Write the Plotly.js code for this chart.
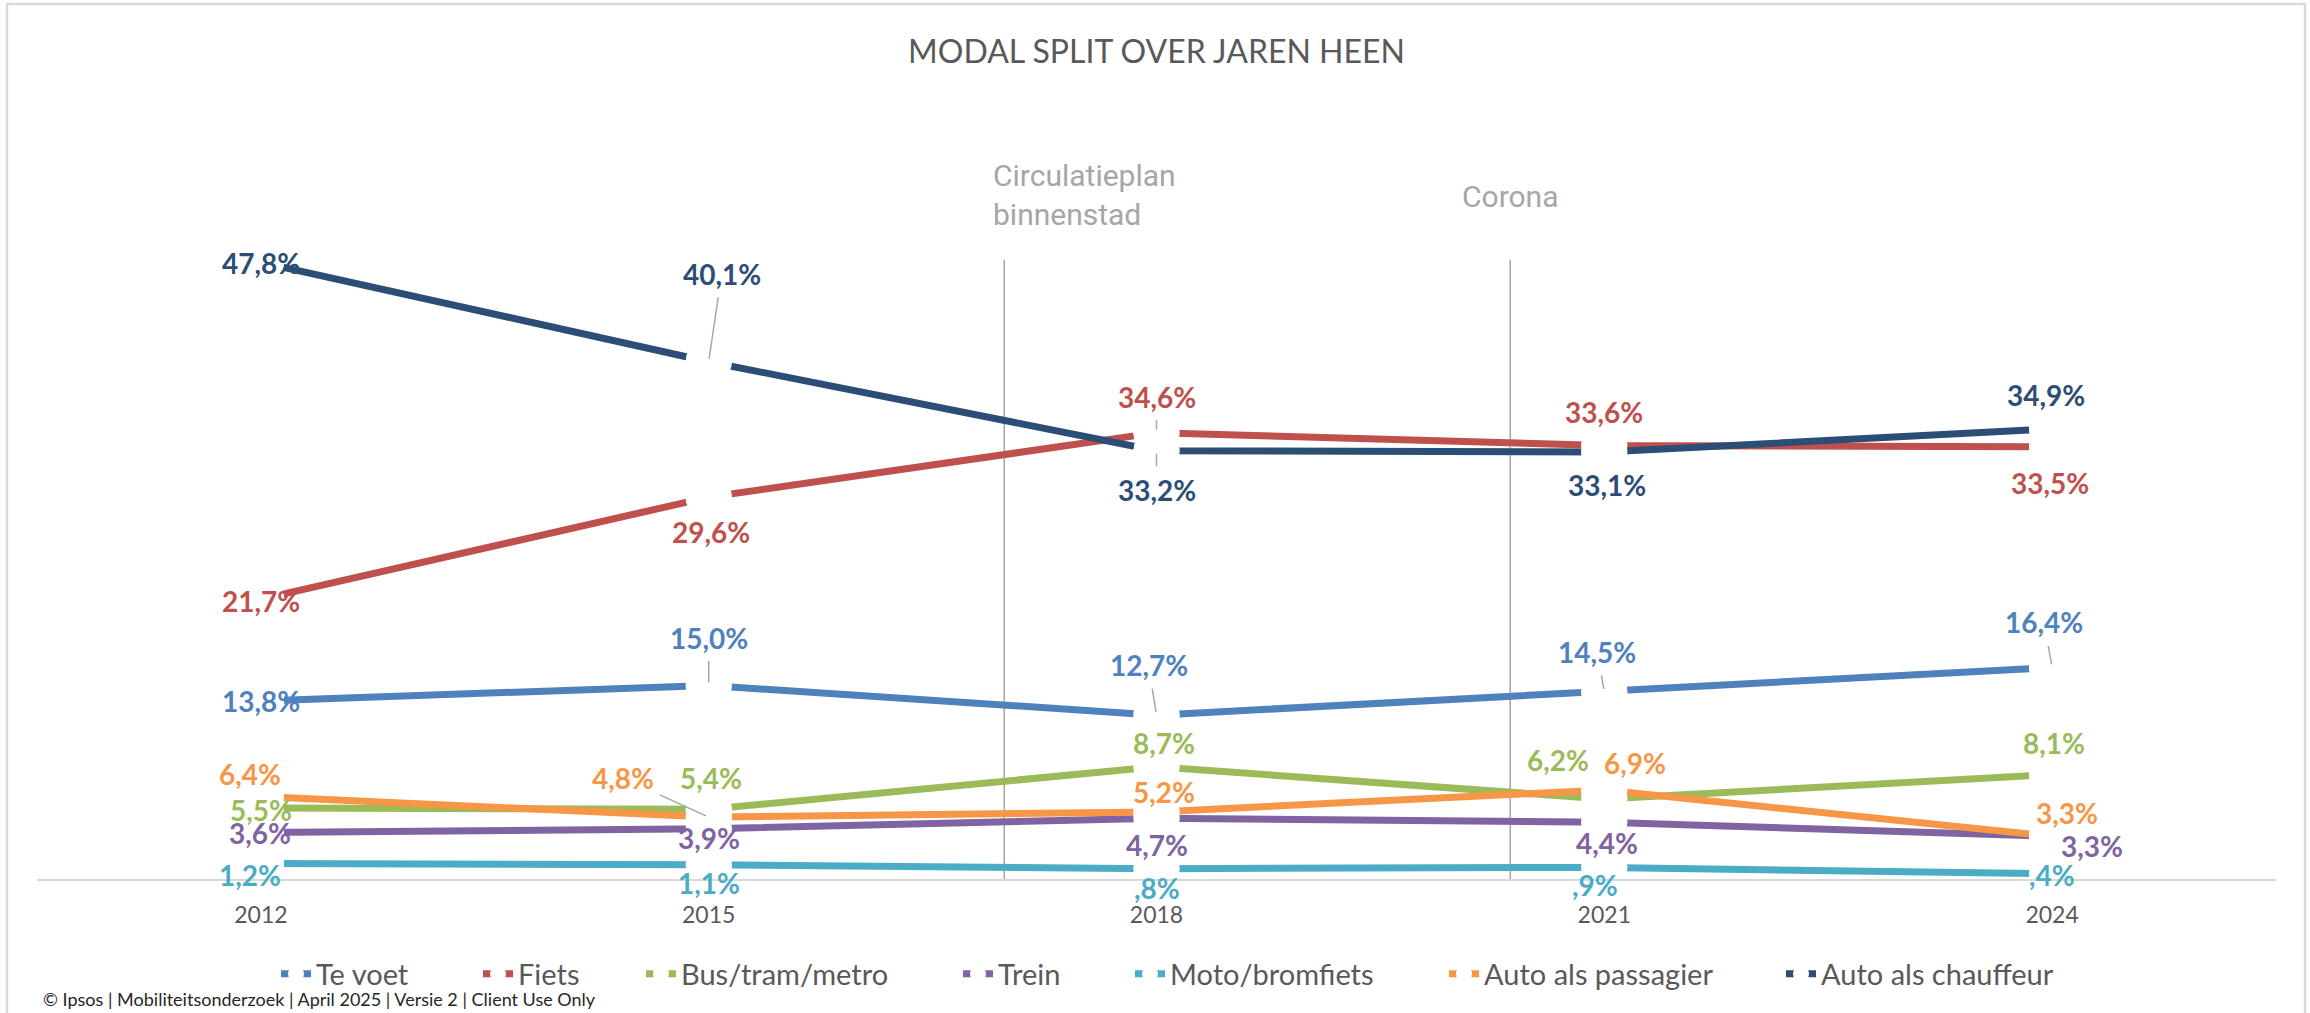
<!DOCTYPE html>
<html><head><meta charset="utf-8">
<script src="https://cdn.plot.ly/plotly-3.0.1.min.js"></script>
<style>html,body{margin:0;padding:0;background:#fff}#chart{width:2310px;height:1013px}</style>
</head><body><div id="chart"></div>
<script>
// ---------- DATA ----------
const years = ['2012', '2015', '2018', '2021', '2024'];
const seriesNames = ['Te voet', 'Fiets', 'Bus/tram/metro', 'Trein', 'Moto/bromfiets', 'Auto als passagier', 'Auto als chauffeur'];
const teVoet        = [13.8, 15.0, 12.7, 14.5, 16.4];
const fiets         = [21.7, 29.6, 34.6, 33.6, 33.5];
const busTramMetro  = [5.5, 5.4, 8.7, 6.2, 8.1];
const trein         = [3.6, 3.9, 4.7, 4.4, 3.3];
const motoBromfiets = [1.2, 1.1, 0.8, 0.9, 0.4];
const autoPassagier = [6.4, 4.8, 5.2, 6.9, 3.3];
const autoChauffeur = [47.8, 40.1, 33.2, 33.1, 34.9];
const chartTitle = 'MODAL SPLIT OVER JAREN HEEN';
const eventLabels = ['Circulatieplan<br>binnenstad', 'Corona'];
const footerText = '© Ipsos | Mobiliteitsonderzoek | April 2025 | Versie 2 | Client Use Only';

// ---------- STYLE / POSITIONS ----------
const seriesValues = [teVoet, fiets, busTramMetro, trein, motoBromfiets, autoPassagier, autoChauffeur];
const colors = ['#4F81BD', '#C0504D', '#9BBB59', '#8064A2', '#4BACC6', '#F79646', '#2C4D75'];
// label offsets in pixels from the point: [dx, dy(down), leaderLine]
const labelOffsets = [
  [[0, 0, 0], [0, -48, 1], [-8, -50, 1], [-7, -40, 1], [-8, -45, 1]],
  [[0, 2, 0], [2, 35, 0], [0, -36, 1], [0, -34, 0], [-2, 36, 0]],
  [[0, 2, 0], [2, -31, 0], [7, -24, 0], [-46, -39, 0], [2, -32, 0]],
  [[-1, 0, 0], [0, 9, 0], [0, 27, 0], [3, 21, 0], [40, 10, 0]],
  [[-11, 11, 0], [0, 18, 0], [0, 19, 0], [-9, 18, 0], [0, 1, 0]],
  [[-11, -22, 0], [-86, -39, 1], [7, -20, 0], [31, -27, 0], [15, -23, 0]],
  [[0, 1, 0], [13, -88, 1], [0, 39, 1], [3, 33, 0], [-6, -34, 0]]
];
const eventPositions = [1.66, 2.79];   // in category units
const eventTop = 48;
// legend entry text start, in page pixels
const legendTextStarts = [321, 523, 686, 1003, 1175, 1489, 1826];

const W = 2310, H = 1013;
const M = {l: 37, r: 34, t: 234, b: 134};
const PW = W - M.l - M.r, PH = H - M.t - M.b;
const pxX = px => (px - M.l) / PW;
const pxY = py => (H - M.b - py) / PH;

const FONT = 'Lato, "Open Sans", "Noto Sans", sans-serif';
const fmt = v => { let s = v.toFixed(1).replace('.', ','); if (s.startsWith('0')) s = s.slice(1); return s + '%'; };
const legendId = s => (s === 0 ? 'legend' : 'legend' + (s + 1));

// ---------- TRACES ----------
const traces = seriesValues.map((vals, s) => ({
  type: 'scatter', mode: 'lines+markers', name: seriesNames[s],
  x: years, y: vals, legend: legendId(s),
  line: {color: colors[s], width: 7},
  marker: {color: '#ffffff', size: 46, line: {width: 0}},
  hoverinfo: 'skip'
}));
// white gap markers drawn on top of all lines
const gapX = [], gapY = [];
seriesValues.forEach(vals => vals.forEach((v, i) => { gapX.push(years[i]); gapY.push(v); }));
traces.push({type: 'scatter', mode: 'markers', x: gapX, y: gapY, showlegend: false,
  marker: {color: '#ffffff', size: 46, line: {width: 0}}, hoverinfo: 'skip'});

// ---------- ANNOTATIONS ----------
const annotations = [];
seriesValues.forEach((vals, s) => {
  vals.forEach((v, i) => {
    const [dx, dy, leader] = labelOffsets[s][i];
    const base = {x: i, y: v, xref: 'x', yref: 'y', text: '<b>' + fmt(v) + '</b>',
      font: {family: FONT, size: 28, color: colors[s]}};
    if (leader) {
      annotations.push(Object.assign(base, {showarrow: true, ax: dx, ay: dy, arrowhead: 0,
        arrowcolor: '#A6A6A6', arrowwidth: 1.5, standoff: 3, startstandoff: 5}));
    } else {
      annotations.push(Object.assign(base, {showarrow: false, xanchor: 'center', yanchor: 'middle',
        xshift: dx, yshift: -dy}));
    }
  });
});
annotations.push({x: eventPositions[0], y: pxY(195), xref: 'x', yref: 'paper', xanchor: 'left', yanchor: 'middle',
  xshift: -13, align: 'left', showarrow: false, text: eventLabels[0],
  font: {family: 'Roboto, sans-serif', size: 30, color: '#A6A6A6'}});
annotations.push({x: eventPositions[1], y: pxY(196), xref: 'x', yref: 'paper', xanchor: 'center', yanchor: 'middle',
  showarrow: false, text: eventLabels[1],
  font: {family: 'Roboto, sans-serif', size: 30, color: '#A6A6A6'}});
annotations.push({x: pxX(41), y: pxY(1012), xref: 'paper', yref: 'paper', xanchor: 'left', yanchor: 'bottom',
  showarrow: false, text: footerText, font: {family: FONT, size: 18, color: '#262626'}});

// ---------- SHAPES ----------
const shapes = eventPositions.map(xp => ({type: 'line', xref: 'x', yref: 'y', x0: xp, x1: xp, y0: 0, y1: eventTop,
  line: {color: '#A6A6A6', width: 1.5}, layer: 'below'}));
shapes.push({type: 'rect', xref: 'paper', yref: 'paper', x0: pxX(7), x1: pxX(2305), y0: pxY(1030), y1: pxY(4),
  line: {color: '#D9D9D9', width: 2.5}, fillcolor: 'rgba(0,0,0,0)'});

const layout = {
  width: W, height: H, margin: M,
  paper_bgcolor: '#ffffff', plot_bgcolor: '#ffffff',
  title: {text: chartTitle, font: {family: FONT, size: 32, color: '#595959'},
    x: 0.5, xref: 'paper', xanchor: 'center', y: 1 - 52 / H, yref: 'container', yanchor: 'middle'},
  xaxis: {type: 'category', categoryarray: years, range: [-0.5, 4.5], showgrid: false, zeroline: false,
    showline: true, linecolor: '#D9D9D9', linewidth: 2, ticks: '', ticklabelstandoff: 14,
    tickfont: {family: FONT, size: 23, color: '#595959'}, fixedrange: true},
  yaxis: {range: [0, 50], visible: false, showgrid: false, zeroline: false, fixedrange: true},
  showlegend: true,
  annotations: annotations,
  shapes: shapes
};
seriesNames.forEach((n, s) => {
  layout[legendId(s)] = {orientation: 'h', x: pxX(legendTextStarts[s] - 45), xanchor: 'left',
    y: pxY(974), yanchor: 'middle', borderwidth: 0,
    font: {family: FONT, size: 29, color: '#595959'}, bgcolor: 'rgba(0,0,0,0)'};
});

Plotly.newPlot('chart', traces, layout, {displayModeBar: false, staticPlot: true});
</script>
</body></html>
